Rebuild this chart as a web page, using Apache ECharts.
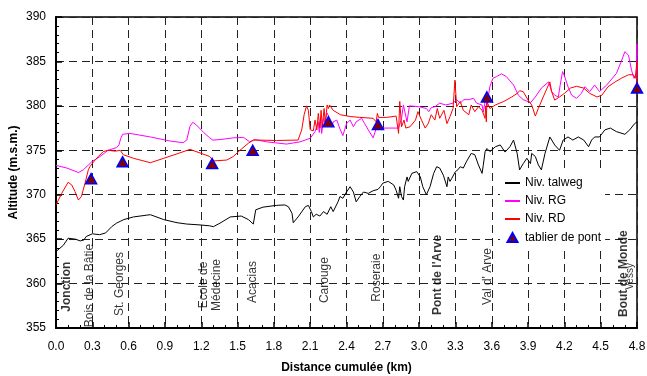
<!DOCTYPE html>
<html>
<head>
<meta charset="utf-8">
<script src="https://cdn.jsdelivr.net/npm/echarts@6/dist/echarts.min.js"></script>
<style>html,body{margin:0;padding:0;background:#fff}#c{width:647px;height:376px}</style>
</head>
<body>
<div id="c"></div>
<script>
// ---- data (km, altitude m) ----
var talweg = [[0.0,363.6],[0.06,364.3],[0.10,365.1],[0.16,365.0],[0.20,364.8],[0.23,364.9],[0.25,365.3],[0.30,365.6],[0.36,365.5],[0.41,365.7],[0.46,366.4],[0.50,366.8],[0.53,367.0],[0.54,366.8],[0.56,367.2],[0.64,367.5],[0.75,367.7],[0.78,367.75],[0.89,367.2],[1.00,366.85],[1.08,366.7],[1.19,366.6],[1.27,366.5],[1.30,366.4],[1.355,366.8],[1.44,367.5],[1.53,367.6],[1.59,367.2],[1.63,366.7],[1.65,368.3],[1.71,368.6],[1.82,368.8],[1.89,368.85],[1.92,368.65],[1.95,367.9],[1.96,366.85],[2.00,367.5],[2.06,368.65],[2.085,368.8],[2.11,368.1],[2.126,367.5],[2.15,367.8],[2.18,367.6],[2.21,368.1],[2.24,367.8],[2.27,368.65],[2.29,368.1],[2.33,369.2],[2.346,369.8],[2.37,369.6],[2.40,370.3],[2.43,370.9],[2.457,370.3],[2.48,369.2],[2.51,369.8],[2.54,370.3],[2.58,370.15],[2.62,370.45],[2.66,370.6],[2.68,370.9],[2.70,371.3],[2.745,371.5],[2.79,371.1],[2.81,370.5],[2.83,369.6],[2.84,370.9],[2.855,369.8],[2.87,369.4],[2.88,370.9],[2.90,372.0],[2.91,371.5],[2.94,372.4],[2.98,372.6],[3.01,372.0],[3.03,370.9],[3.06,370.0],[3.09,370.9],[3.12,372.4],[3.145,373.15],[3.17,373.0],[3.20,372.2],[3.23,370.9],[3.24,372.0],[3.255,371.5],[3.27,371.85],[3.30,372.6],[3.32,372.8],[3.34,373.15],[3.365,373.0],[3.39,373.7],[3.43,374.65],[3.46,374.5],[3.49,373.35],[3.52,372.4],[3.53,373.3],[3.545,374.85],[3.56,375.2],[3.585,374.85],[3.63,375.4],[3.67,375.6],[3.71,374.8],[3.75,375.4],[3.78,376.15],[3.81,374.65],[3.83,372.8],[3.86,373.5],[3.89,374.1],[3.92,373.5],[3.93,374.65],[3.96,374.3],[3.985,373.35],[4.01,372.8],[4.04,374.65],[4.08,376.5],[4.12,375.6],[4.16,375.0],[4.19,376.15],[4.23,376.5],[4.27,376.15],[4.315,376.5],[4.36,376.15],[4.40,375.4],[4.425,376.15],[4.45,376.5],[4.49,376.5],[4.535,377.3],[4.58,377.5],[4.63,377.1],[4.70,376.8],[4.74,377.3],[4.78,378.0],[4.80,378.2]];

var rg = [[0.0,373.3],[0.09,373.0],[0.185,372.5],[0.226,372.8],[0.295,373.7],[0.364,374.3],[0.43,375.0],[0.50,375.3],[0.52,375.6],[0.535,376.35],[0.55,376.8],[0.61,376.9],[0.78,376.5],[0.94,376.05],[1.05,375.85],[1.08,376.15],[1.107,377.7],[1.13,378.15],[1.16,377.85],[1.22,377.0],[1.27,376.4],[1.295,376.15],[1.355,376.2],[1.465,376.4],[1.55,376.45],[1.60,375.95],[1.645,376.2],[1.74,375.95],[1.905,375.7],[2.016,375.95],[2.10,376.35],[2.14,377.1],[2.167,378.2],[2.175,377.0],[2.187,378.5],[2.195,376.9],[2.21,378.6],[2.22,378.2],[2.24,379.2],[2.26,378.6],[2.28,377.65],[2.29,378.2],[2.32,378.4],[2.346,377.4],[2.37,376.65],[2.40,378.0],[2.43,378.4],[2.457,377.65],[2.48,378.2],[2.525,378.6],[2.55,378.0],[2.58,377.3],[2.62,376.4],[2.65,377.65],[2.68,377.5],[2.83,377.5],[2.855,378.6],[2.87,380.1],[2.90,378.2],[2.92,380.0],[3.0,379.9],[3.06,379.7],[3.08,379.35],[3.10,379.8],[3.13,379.9],[3.17,380.3],[3.22,380.1],[3.28,380.3],[3.31,380.7],[3.34,380.3],[3.37,380.7],[3.41,380.7],[3.45,380.85],[3.475,380.3],[3.52,380.1],[3.53,379.3],[3.55,380.9],[3.56,380.0],[3.585,382.2],[3.61,383.1],[3.64,383.3],[3.68,383.6],[3.72,383.3],[3.78,382.35],[3.82,381.2],[3.86,380.7],[3.92,380.35],[3.96,381.0],[4.01,382.0],[4.07,382.7],[4.095,381.6],[4.12,381.2],[4.15,381.0],[4.165,382.3],[4.185,383.85],[4.20,383.4],[4.23,382.15],[4.26,381.2],[4.30,380.85],[4.34,381.4],[4.37,382.15],[4.41,381.6],[4.45,382.35],[4.49,381.6],[4.55,382.35],[4.63,383.65],[4.67,385.0],[4.70,386.1],[4.73,385.7],[4.755,384.0],[4.775,383.1],[4.795,383.5],[4.80,387.0],[4.80,383.0]];

var rd = [[0.0,368.85],[0.047,370.15],[0.10,371.4],[0.13,371.1],[0.157,370.35],[0.185,369.4],[0.21,369.8],[0.24,371.3],[0.267,372.8],[0.28,373.15],[0.31,373.7],[0.35,374.3],[0.39,374.85],[0.43,375.0],[0.49,374.9],[0.53,375.0],[0.545,375.2],[0.556,374.5],[0.64,374.1],[0.78,373.6],[0.89,374.1],[1.0,374.6],[1.107,375.1],[1.19,374.7],[1.27,374.3],[1.30,373.8],[1.41,373.9],[1.465,374.3],[1.52,375.0],[1.59,375.8],[1.63,376.15],[1.645,376.35],[1.67,376.15],[1.82,376.1],[2.0,376.15],[2.03,377.3],[2.05,379.0],[2.07,380.0],[2.085,379.5],[2.10,377.3],[2.126,377.2],[2.14,378.4],[2.155,377.3],[2.167,379.15],[2.18,377.5],[2.19,379.5],[2.20,377.65],[2.215,379.7],[2.225,378.0],[2.24,380.1],[2.25,379.7],[2.26,380.1],[2.29,379.5],[2.35,379.0],[2.43,378.8],[2.51,378.7],[2.62,378.6],[2.645,378.2],[2.655,379.15],[2.665,378.7],[2.73,378.7],[2.81,378.85],[2.83,376.9],[2.84,380.5],[2.855,377.65],[2.875,378.4],[2.89,377.5],[2.925,377.65],[2.97,378.4],[2.99,379.35],[3.02,378.4],[3.05,377.5],[3.075,378.0],[3.10,379.0],[3.13,378.4],[3.15,379.7],[3.17,378.6],[3.205,379.5],[3.23,378.0],[3.255,378.8],[3.28,379.7],[3.296,382.9],[3.31,379.9],[3.34,380.5],[3.365,379.5],[3.41,379.0],[3.43,380.1],[3.46,379.35],[3.49,379.9],[3.52,379.5],[3.545,378.6],[3.55,380.0],[3.555,378.2],[3.56,380.5],[3.585,379.7],[3.63,380.1],[3.70,380.5],[3.765,381.0],[3.81,381.4],[3.83,381.7],[3.86,381.6],[3.90,380.65],[3.93,380.1],[3.96,378.85],[3.985,379.7],[4.025,381.0],[4.08,382.7],[4.095,381.6],[4.12,380.65],[4.16,381.0],[4.20,381.4],[4.25,382.0],[4.30,382.2],[4.36,382.0],[4.41,381.4],[4.47,381.0],[4.51,381.2],[4.56,382.15],[4.62,382.7],[4.67,383.1],[4.73,383.5],[4.77,383.5],[4.785,383.1],[4.80,385.0],[4.80,382.5]];

var bridges = [[0.29,371.8],[0.55,373.7],[1.29,373.5],[1.625,375.0],[2.25,378.2],[2.66,377.9],[3.56,381.0],[4.80,382.0]];

var seriesNames = ['Niv. talweg','Niv. RG','Niv. RD','tablier de pont'];

var stationNames = ['Jonction','Bois de la Bâtie','St. Georges','Ecole de\nMédecine','Acacias','Carouge','Roseraie',"Pont de l'Arve","Val d' Arve",'Bout de Monde','Vessy'];
var stationKm    = [0.088,0.281,0.529,1.272,1.623,2.222,2.65,3.156,3.569,4.693,4.742];
var stationAlt   = [356.84,355.08,356.35,359.84,357.8,357.8,357.96,356.46,357.6,356.24,359.3];
var stationMajor = [true,false,false,false,false,false,false,true,false,true,false];

var xTickStep = 0.3, yTickStep = 5;

// ---- chart ----
var FONT = '"Liberation Sans", Arial, sans-serif';
var chart = echarts.init(document.getElementById('c'), null, {renderer:'canvas'});

var stationData = stationNames.map(function(n,i){
  var centered = n.indexOf('\n') >= 0;
  var small = (n === 'Vessy');
  return {
    name: n,
    value: [stationKm[i], stationAlt[i]],
    label: {
      fontWeight: stationMajor[i] ? 'bold' : 'normal',
      fontSize: small ? 10 : 12,
      align: centered ? 'center' : 'left',
      lineHeight: 13
    }
  };
});

// legend icons: thin horizontal line and small triangle (bbox padded with degenerate points)
var LINE_ICON = 'path://M0,0L0.01,0M0,11L0.01,11M0,4.6L15,4.6L15,6.4L0,6.4Z';
var TRI_ICON = 'path://M0,0L0.01,0M15,0L15.01,0M0,11L0.01,11M7.5,1L12.5,10L2.5,10Z';

var option = {
  animation: false,
  backgroundColor: '#fff',
  grid: {left:56, right:10, top:17, bottom:48, show:true, borderColor:'#000', borderWidth:1.5, backgroundColor:'transparent', outerBoundsMode:'none', containLabel:false},
  xAxis: {
    type:'value', min:0, max:4.8, interval:xTickStep,
    name:'Distance cumulée (km)', nameLocation:'middle', nameGap:34, nameMoveOverlap:false,
    nameTextStyle:{fontFamily:FONT, fontSize:12, fontWeight:'bold', color:'#000'},
    axisLine:{show:true, onZero:false, lineStyle:{color:'#000', width:2}},
    axisTick:{show:true, inside:true, length:6, lineStyle:{color:'#000', width:1.5}},
    minorTick:{show:true, splitNumber:3, length:3, lineStyle:{color:'#000', width:1}},
    axisLabel:{fontFamily:FONT, fontSize:12, color:'#000', margin:13, formatter:function(v){return v.toFixed(1);}},
    splitLine:{show:true, lineStyle:{color:'#222', width:1, type:[8,5]}}
  },
  yAxis: {
    type:'value', min:355, max:390, interval:yTickStep,
    name:'Altitude (m.s.m.)', nameLocation:'middle', nameGap:36, nameRotate:90, nameMoveOverlap:false,
    nameTextStyle:{fontFamily:FONT, fontSize:12, fontWeight:'bold', color:'#000'},
    axisLine:{show:true, onZero:false, lineStyle:{color:'#000', width:2}},
    axisTick:{show:true, inside:true, length:6, lineStyle:{color:'#000', width:1.5}},
    minorTick:{show:true, splitNumber:5, length:3, lineStyle:{color:'#000', width:1}},
    axisLabel:{fontFamily:FONT, fontSize:12, color:'#000', margin:10},
    splitLine:{show:true, lineStyle:{color:'#222', width:1, type:[8,5]}}
  },
  legend: {
    orient:'vertical', left:500, top:172, backgroundColor:'#fff',
    padding:[5,4,5,4], itemWidth:15, itemHeight:11, itemGap:6,
    textStyle:{fontFamily:FONT, fontSize:12, color:'#000'},
    data:[{name:seriesNames[0], icon:LINE_ICON},{name:seriesNames[1], icon:LINE_ICON},{name:seriesNames[2], icon:LINE_ICON},{name:seriesNames[3], icon:TRI_ICON}]
  },
  series: [
    {name:seriesNames[0], type:'line', data:talweg, symbol:'none', showSymbol:false, lineStyle:{color:'#000', width:1}, itemStyle:{color:'#000'}, z:3},
    {name:seriesNames[1], type:'line', data:rg, symbol:'none', showSymbol:false, lineStyle:{color:'#ff00ff', width:1}, itemStyle:{color:'#ff00ff'}, z:3},
    {name:seriesNames[2], type:'line', data:rd, symbol:'none', showSymbol:false, lineStyle:{color:'#ff0000', width:1}, itemStyle:{color:'#ff0000'}, z:4},
    {name:seriesNames[3], type:'scatter', data:bridges, symbol:'triangle', symbolSize:[11,10], itemStyle:{color:'#800000', borderColor:'#0000ff', borderWidth:1.5, opacity:1}, z:5},
    {name:'stations', type:'scatter', data:stationData, symbolSize:0, silent:true, z:6,
     label:{show:true, position:[0,0], rotate:90, verticalAlign:'middle', align:'left', fontFamily:FONT, color:'#000', formatter:function(p){return p.name;}}}
  ]
};
chart.setOption(option);
</script>
</body>
</html>
